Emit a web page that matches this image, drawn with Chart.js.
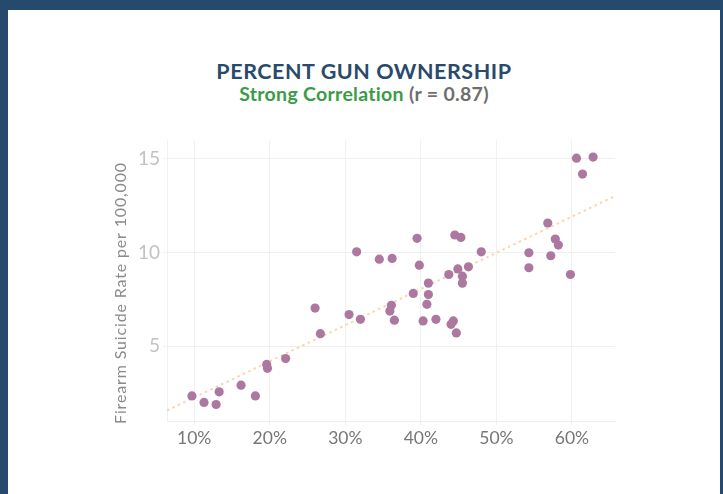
<!DOCTYPE html>
<html>
<head>
<meta charset="utf-8">
<script src="https://cdn.jsdelivr.net/npm/chart.js@4.4.1/dist/chart.umd.min.js"></script>
<style>
  html, body { margin: 0; padding: 0; }
  body { width: 723px; height: 494px; background: #264a6d; position: relative; overflow: hidden; font-family: Lato, "Open Sans", sans-serif; }
  #panel { position: absolute; left: 8px; top: 10px; width: 712px; height: 484px; background: #ffffff; }
  #title { position: absolute; left: 0; top: 58px; width: 728px; line-height: 26px; text-align: center; font-weight: 700; font-size: 21.5px; color: #284a6c; letter-spacing: 0.55px; }
  #subtitle { position: absolute; left: 0; top: 82px; width: 728px; line-height: 24px; text-align: center; font-weight: 700; font-size: 19.5px; color: #6e6e6e; letter-spacing: 0.3px; }
  #subtitle .g { color: #3b9b48; }
  #wrap { position: absolute; left: 0; top: 0; width: 723px; height: 494px; }
</style>
</head>
<body>
<div id="panel"></div>
<div id="title">PERCENT GUN OWNERSHIP</div>
<div id="subtitle"><span class="g">Strong Correlation</span> (r = 0.87)</div>
<div id="wrap"><canvas id="c" width="723" height="494"></canvas></div>
<script>
// Percent gun ownership (x, %) and firearm suicide rate per 100,000 (y)
const ownership = [9.7, 11.3, 12.9, 13.3, 16.2, 18.1, 19.6, 19.7, 22.1, 26.0, 26.7, 30.5, 32.0,
  31.5, 34.5, 36.2, 39.5, 39.8, 44.5, 45.3, 48.0, 43.7, 44.9, 46.3, 45.5, 45.5, 41.0, 39.0,
  41.0, 40.8, 36.1, 35.9, 36.5, 40.3, 42.0, 44.3, 44.0, 44.7, 60.6, 62.8, 61.4, 56.8, 57.8,
  58.2, 54.3, 57.2, 54.3, 59.8];
const suicideRate = [2.34, 1.99, 1.88, 2.56, 2.91, 2.34, 4.02, 3.81, 4.33, 7.03, 5.66, 6.68, 6.43,
  10.03, 9.64, 9.68, 10.75, 9.32, 10.93, 10.80, 10.03, 8.82, 9.12, 9.23, 8.73, 8.36, 8.36, 7.81,
  7.75, 7.23, 7.18, 6.87, 6.38, 6.34, 6.43, 6.34, 6.16, 5.70, 15.03, 15.09, 14.18, 11.57, 10.71,
  10.39, 9.98, 9.82, 9.18, 8.82];
// Fitted trend line end points
const trendX = [6.4, 65.7];
const trendY = [1.56, 13.01];
const xTicks = [10, 20, 30, 40, 50, 60];
const yTicks = [5, 10, 15];
const yTitle = 'Firearm Suicide Rate per 100,000';

const points = ownership.map((x, i) => ({ x: x, y: suicideRate[i] }));
const trend = trendX.map((x, i) => ({ x: x, y: trendY[i] }));

const yTitlePlugin = {
  id: 'yTitle',
  afterDraw(chart) {
    const ctx = chart.ctx;
    ctx.save();
    ctx.translate(121, 293);
    ctx.rotate(-Math.PI / 2);
    ctx.fillStyle = '#8a8a8a';
    ctx.font = '16px Lato, "Open Sans", sans-serif';
    if ('letterSpacing' in ctx) ctx.letterSpacing = '0.85px';
    ctx.textAlign = 'center';
    ctx.textBaseline = 'middle';
    ctx.fillText(yTitle, 0, 0);
    ctx.restore();
  }
};

new Chart(document.getElementById('c'), {
  type: 'scatter',
  data: {
    datasets: [
      {
        label: 'States',
        data: points,
        backgroundColor: '#ad789f',
        borderColor: '#ad789f',
        borderWidth: 0,
        pointRadius: 4.6,
        pointHoverRadius: 4.6,
        order: 0
      },
      {
        type: 'line',
        label: 'Trend',
        data: trend,
        borderColor: '#fdd3ad',
        borderWidth: 2,
        borderDash: [2.5, 3.5],
        pointRadius: 0,
        fill: false,
        order: 1
      }
    ]
  },
  options: {
    responsive: false,
    animation: false,
    events: [],
    layout: { padding: { left: 100, top: 140, right: 108, bottom: 43 } },
    plugins: { legend: { display: false }, tooltip: { enabled: false }, title: { display: false } },
    scales: {
      x: {
        type: 'linear',
        min: 6.4,
        max: 65.7,
        afterBuildTicks: (s) => { s.ticks = xTicks.map(v => ({ value: v })); },
        afterFit: (s) => { s.height = 30; },
        grid: { color: '#f0f0f0', lineWidth: 1, tickLength: 4, drawTicks: true },
        border: { display: true, color: '#eeeeee' },
        ticks: {
          padding: 3,
          color: '#777777',
          font: { family: 'Lato, "Open Sans", sans-serif', size: 17.5 },
          callback: (v) => v + '%'
        }
      },
      y: {
        type: 'linear',
        min: 1,
        max: 16,
        afterBuildTicks: (s) => { s.ticks = yTicks.map(v => ({ value: v })); },
        afterFit: (s) => { s.width = 67; },
        grid: { color: '#f0f0f0', lineWidth: 1, tickLength: 4, drawTicks: true },
        border: { display: true, color: '#f0f0f0' },
        ticks: {
          padding: 3,
          color: '#c2c2c2',
          font: { family: 'Lato, "Open Sans", sans-serif', size: 19 }
        }
      }
    }
  },
  plugins: [yTitlePlugin]
});
</script>
</body>
</html>
